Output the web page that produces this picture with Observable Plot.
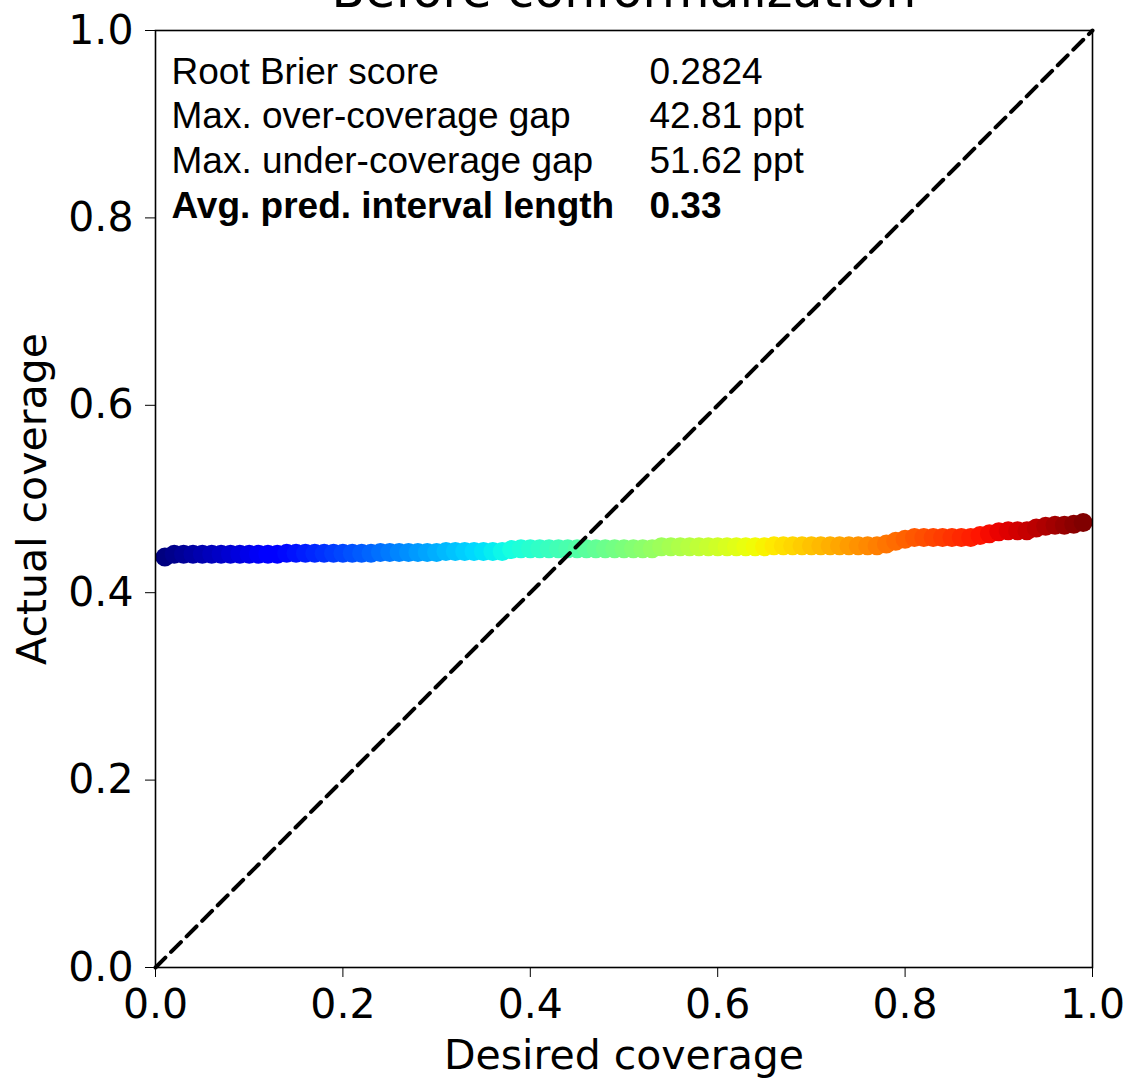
<!DOCTYPE html>
<html>
<head>
<meta charset="utf-8">
<script src="https://cdn.jsdelivr.net/npm/d3@7"></script>
<script src="https://cdn.jsdelivr.net/npm/@observablehq/plot@0.6"></script>
<style>
  html, body { margin: 0; padding: 0; background: white; }
  svg line { stroke-width: 1.6px; }
</style>
</head>
<body>
<div id="chart"></div>
<script>
// ---- Data ----
const desired = [
  0.01,0.02,0.03,0.04,0.05,0.06,0.07,0.08,0.09,0.10,
  0.11,0.12,0.13,0.14,0.15,0.16,0.17,0.18,0.19,0.20,
  0.21,0.22,0.23,0.24,0.25,0.26,0.27,0.28,0.29,0.30,
  0.31,0.32,0.33,0.34,0.35,0.36,0.37,0.38,0.39,0.40,
  0.41,0.42,0.43,0.44,0.45,0.46,0.47,0.48,0.49,0.50,
  0.51,0.52,0.53,0.54,0.55,0.56,0.57,0.58,0.59,0.60,
  0.61,0.62,0.63,0.64,0.65,0.66,0.67,0.68,0.69,0.70,
  0.71,0.72,0.73,0.74,0.75,0.76,0.77,0.78,0.79,0.80,
  0.81,0.82,0.83,0.84,0.85,0.86,0.87,0.88,0.89,0.90,
  0.91,0.92,0.93,0.94,0.95,0.96,0.97,0.98,0.99
];
const actual = [
  0.438,0.441,0.441,0.441,0.441,0.441,0.441,0.441,0.441,0.441,
  0.441,0.441,0.441,0.442,0.442,0.442,0.442,0.442,0.442,0.442,
  0.442,0.442,0.442,0.443,0.443,0.443,0.443,0.443,0.443,0.443,
  0.444,0.444,0.444,0.444,0.444,0.444,0.444,0.446,0.447,0.447,
  0.447,0.447,0.447,0.447,0.447,0.447,0.447,0.447,0.447,0.447,
  0.447,0.447,0.447,0.449,0.449,0.449,0.449,0.449,0.449,0.449,
  0.449,0.449,0.449,0.449,0.449,0.450,0.450,0.450,0.450,0.450,
  0.450,0.450,0.450,0.450,0.450,0.450,0.450,0.452,0.455,0.457,
  0.459,0.459,0.459,0.459,0.459,0.459,0.459,0.461,0.463,0.465,
  0.466,0.466,0.466,0.469,0.471,0.472,0.472,0.473,0.475
];
const diagonal = [0, 1];
const ticks = [0, 0.2, 0.4, 0.6, 0.8, 1.0];
const title = "Before conformalization";
const xLabel = "Desired coverage";
const yLabel = "Actual coverage";
const statNames = ["Root Brier score", "Max. over-coverage gap", "Max. under-coverage gap", "Avg. pred. interval length"];
const statValues = ["0.2824", "42.81 ppt", "51.62 ppt", "0.33"];
const statBold = [false, false, false, true];

// ---- Jet colormap (matplotlib) ----
function seg(stops, t) {
  for (let i = 1; i < stops.length; i++) {
    if (t <= stops[i][0]) {
      const [t0, v0] = stops[i - 1], [t1, v1] = stops[i];
      return v0 + (v1 - v0) * (t - t0) / (t1 - t0 || 1);
    }
  }
  return stops[stops.length - 1][1];
}
const R = [[0,0],[0.35,0],[0.66,1],[0.89,1],[1,0.5]];
const G = [[0,0],[0.125,0],[0.375,1],[0.64,1],[0.91,0],[1,0]];
const B = [[0,0.5],[0.11,1],[0.34,1],[0.65,0],[1,0]];
function jet(t) {
  t = Math.max(0, Math.min(1, t));
  return d3.rgb(255 * seg(R, t), 255 * seg(G, t), 255 * seg(B, t)).formatHex();
}

const points = desired.map((d, i) => ({desired: d, actual: actual[i]}));

const font = "DejaVu Sans";
const statFont = "Liberation Sans";

const statMarks = [];
statNames.forEach((name, i) => {
  const dy = 27 + i * 44.7;
  statMarks.push(Plot.text([name], {
    frameAnchor: "top-left", textAnchor: "start", lineAnchor: "top",
    dx: 16, dy, fontSize: 37, fontFamily: statFont,
    fontWeight: statBold[i] ? "bold" : "normal", fill: "black"
  }));
  statMarks.push(Plot.text([statValues[i]], {
    frameAnchor: "top-left", textAnchor: "start", lineAnchor: "top",
    dx: 494, dy, fontSize: 37, fontFamily: statFont,
    fontWeight: statBold[i] ? "bold" : "normal", fill: "black"
  }));
});

const chart = Plot.plot({
  width: 1130,
  height: 1081,
  marginLeft: 155,
  marginRight: 38,
  marginTop: 30,
  marginBottom: 114,
  style: {fontFamily: font, fontSize: "41px", color: "black", background: "white"},
  x: {domain: [0, 1], ticks, tickFormat: ".1f", tickSize: 10, tickPadding: 11, label: null},
  y: {domain: [0, 1], ticks, tickFormat: ".1f", tickSize: 10, tickPadding: 12, label: null},
  color: {type: "linear", domain: [0.01, 0.99], interpolate: jet},
  marks: [
    Plot.dot(points, {x: "desired", y: "actual", fill: "desired", r: 9.5, stroke: null}),
    Plot.line(diagonal, {x: d => d, y: d => d, stroke: "black", strokeWidth: 4, strokeDasharray: "14,8"}),
    Plot.frame({stroke: "black", strokeWidth: 1.6}),
    Plot.text([title], {frameAnchor: "top", textAnchor: "middle", lineAnchor: "bottom", dy: -24, fontSize: 49, fontFamily: font, fill: "black"}),
    Plot.text([xLabel], {frameAnchor: "bottom", textAnchor: "middle", lineAnchor: "middle", dy: 88, fontSize: 41, fontFamily: font, fill: "black"}),
    Plot.text([yLabel], {frameAnchor: "left", textAnchor: "middle", lineAnchor: "middle", rotate: -90, dx: -123, fontSize: 41, fontFamily: font, fill: "black"}),
    ...statMarks
  ]
});
document.getElementById("chart").appendChild(chart);
</script>
</body>
</html>
